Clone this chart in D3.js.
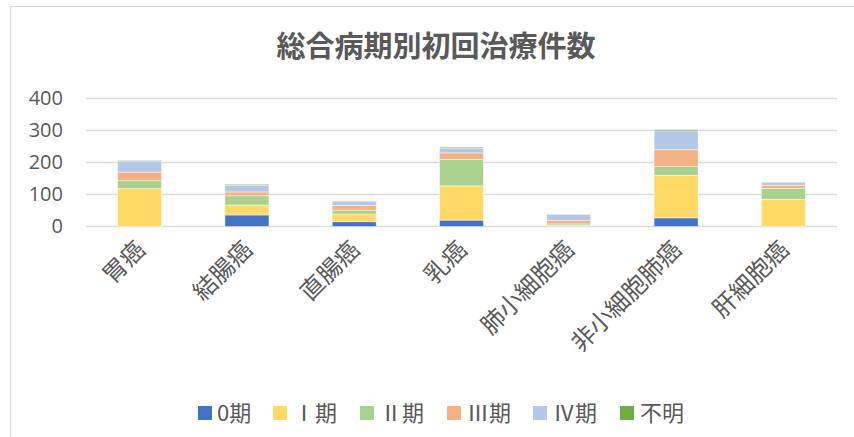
<!DOCTYPE html>
<html>
<head>
<meta charset="utf-8">
<script src="https://cdn.jsdelivr.net/npm/d3@7"></script>
<style>
  html, body { margin: 0; padding: 0; background: #ffffff; }
</style>
</head>
<body>
<script>
const categories = ['胃癌', '結腸癌', '直腸癌', '乳癌', '肺小細胞癌', '非小細胞肺癌', '肝細胞癌'];
const seriesNames = ['0期', 'Ⅰ期', 'Ⅱ期', 'Ⅲ期', 'Ⅳ期', '不明'];
const stage0 = [0, 36, 15, 20, 1, 27, 0];
const stage1 = [119, 31, 24, 107, 2, 133, 85];
const stage2 = [24, 29, 12, 82, 5, 27, 34];
const stage3 = [27, 12, 15, 21, 11, 53, 10];
const stage4 = [35, 21, 13, 15, 19, 59, 8];
const unknown = [2, 3, 1, 3, 0, 4, 2];
const yTicks = [0, 100, 200, 300, 400];

const colors = ['#4472C4', '#FFD966', '#A9D18E', '#F4B183', '#B4C7E7', '#70AD47'];
const W = 854, H = 437;
const textColor = '#595959';
const cjk = '"Noto Sans CJK JP", "Noto Sans", sans-serif';

// build the table for d3.stack
const allSeries = [stage0, stage1, stage2, stage3, stage4, unknown];
const rows = categories.map((c, i) => {
  const r = { cat: c };
  seriesNames.forEach((s, j) => { r[s] = allSeries[j][i]; });
  return r;
});
const stacked = d3.stack().keys(seriesNames)(rows);

const svg = d3.select('body').append('svg')
  .attr('width', W)
  .attr('height', H)
  .style('display', 'block');

// chart frame
svg.append('rect')
  .attr('x', 10.5).attr('y', 6.5)
  .attr('width', 870).attr('height', 450)
  .attr('fill', '#ffffff')
  .attr('stroke', '#D9D9D9')
  .attr('stroke-width', 1);

// Title
svg.append('text')
  .attr('x', 436)
  .attr('y', 57)
  .attr('text-anchor', 'middle')
  .attr('font-family', cjk)
  .attr('font-size', 29)
  .attr('font-weight', 'bold')
  .attr('fill', textColor)
  .text('総合病期別初回治療件数');

const x = d3.scaleBand()
  .domain(categories)
  .range([86, 837])
  .paddingInner(0.59)
  .paddingOuter(0.295);

const y = d3.scaleLinear()
  .domain([0, 400])
  .range([226.5, 98.5]);

// gridlines
svg.append('g')
  .selectAll('line')
  .data(yTicks)
  .join('line')
  .attr('x1', 86).attr('x2', 837)
  .attr('y1', d => y(d)).attr('y2', d => y(d))
  .attr('stroke', '#D9D9D9')
  .attr('stroke-width', 1.5);

// y axis labels
const yAxis = d3.axisLeft(y).tickValues(yTicks).tickSize(0).tickPadding(0);
const gy = svg.append('g').attr('transform', 'translate(63,0)').call(yAxis);
gy.select('.domain').remove();
gy.selectAll('text')
  .attr('font-family', '"Open Sans", "Noto Sans", sans-serif')
  .attr('font-size', 20)
  .attr('fill', textColor);

// bars
svg.append('g')
  .selectAll('g')
  .data(stacked)
  .join('g')
  .attr('fill', (d, i) => colors[i])
  .selectAll('rect')
  .data(d => d)
  .join('rect')
  .attr('x', d => x(d.data.cat))
  .attr('width', x.bandwidth())
  .attr('y', d => y(d[1]))
  .attr('height', d => Math.max(0, y(d[0]) - y(d[1])))
  .attr('stroke', '#ffffff')
  .attr('stroke-opacity', 0.6)
  .attr('stroke-width', 0.75);

// x labels rotated
svg.append('g')
  .selectAll('text')
  .data(categories)
  .join('text')
  .attr('transform', d => `translate(${x(d) + x.bandwidth() / 2 + 7},251) rotate(-45)`)
  .attr('text-anchor', 'end')
  .attr('font-family', cjk)
  .attr('font-size', 24)
  .attr('fill', textColor)
  .text(d => d);

// legend
const legendX = [198, 273, 360, 447, 533, 620];
const lg = svg.append('g')
  .selectAll('g')
  .data(seriesNames)
  .join('g')
  .attr('transform', (d, i) => `translate(${legendX[i]},413)`);
lg.append('rect')
  .attr('x', 0).attr('y', -7)
  .attr('width', 14).attr('height', 14)
  .attr('fill', (d, i) => colors[i]);
lg.append('text')
  .attr('x', (d, i) => i === 0 ? 19 : 20)
  .attr('y', 8)
  .attr('font-family', cjk)
  .attr('font-size', 22)
  .attr('fill', textColor)
  .text(d => d);
</script>
</body>
</html>
